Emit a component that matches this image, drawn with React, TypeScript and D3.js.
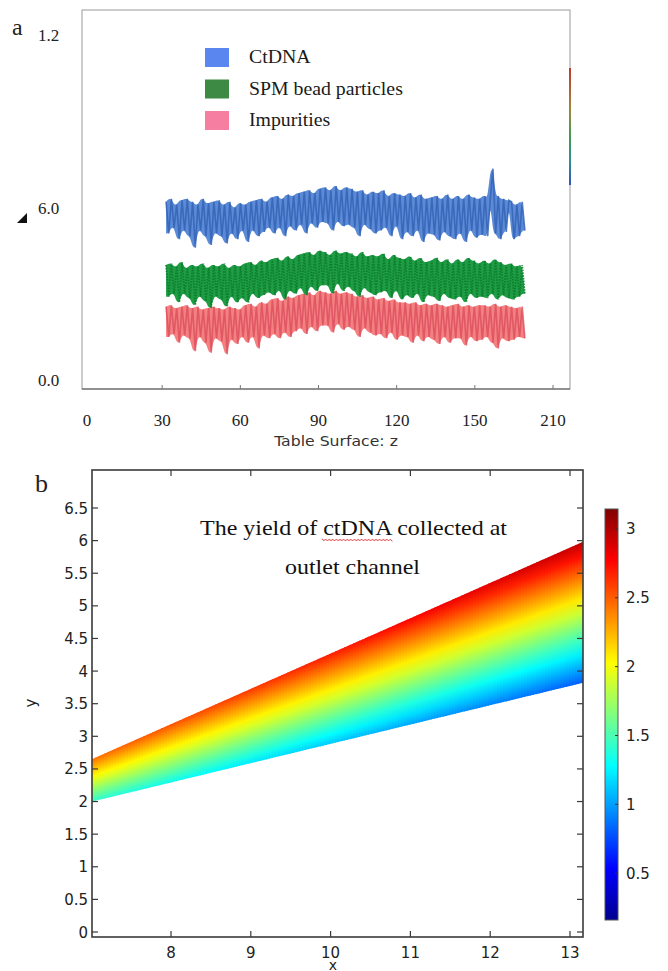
import { useEffect, useRef } from 'react';
import * as d3 from 'd3';

const W = 668;
const H = 971;
const SERIF = "'Liberation Serif', 'Times New Roman', serif";
const SANS = "'DejaVu Sans', sans-serif";

// ---- panel a: noisy signals ----
const A_X_TICKS = [0, 30, 60, 90, 120, 150, 180];
const A_X_TICK_LABELS = ['0', '30', '60', '90', '120', '150', '210'];
const A_Y_TICKS = [0, 6, 12];
const A_Y_TICK_LABELS = ['0.0', '6.0', '1.2'];

const SERIES_X_START = 31.5;
const SERIES_X_STEP = 1.02;

const CTDNA = [
  6.2, 5.1, 6.3, 5.3, 6.1, 4.9, 6.25, 5.2, 6.3, 5.0,
  6.2, 4.6, 6.1, 5.2, 6.3, 5.0, 6.15, 4.7, 6.2, 5.1,
  6.25, 5.0, 6.1, 4.75, 6.2, 5.1, 6.0, 4.9, 6.15, 5.2,
  6.1, 4.8, 6.2, 5.2, 6.25, 5.0, 6.3, 5.15, 6.2, 5.3,
  6.35, 5.1, 6.4, 5.3, 6.3, 5.0, 6.45, 5.35, 6.4, 5.2,
  6.5, 5.4, 6.55, 5.1, 6.6, 5.45, 6.5, 5.3, 6.65, 5.5,
  6.7, 5.45, 6.6, 5.2, 6.75, 5.5, 6.6, 5.35, 6.7, 5.4,
  6.65, 5.3, 6.55, 5.0, 6.6, 5.4, 6.45, 5.25, 6.55, 5.1,
  6.5, 5.2, 6.6, 5.3, 6.4, 5.0, 6.5, 5.35, 6.45, 4.9,
  6.4, 5.15, 6.5, 5.0, 6.35, 5.2, 6.45, 4.8, 6.3, 5.1,
  6.35, 5.05, 6.4, 4.85, 6.3, 5.15, 6.45, 5.0, 6.3, 4.9,
  6.4, 5.1, 6.3, 4.8, 6.45, 5.2, 6.35, 4.95, 6.3, 5.05,
  6.4, 5.0, 6.3, 7.35, 5.1, 6.4, 4.9, 6.3, 5.15, 6.25,
  6.2, 4.9, 6.1, 5.0, 6.2, 5.2,
];

const SPM = [
  4.0, 2.9, 4.05, 3.0, 3.95, 2.7, 4.1, 3.0, 3.9, 2.85,
  4.0, 2.6, 3.95, 2.9, 4.05, 2.75, 3.9, 2.5, 4.0, 2.9,
  3.95, 2.8, 4.05, 2.55, 3.9, 2.9, 4.0, 2.7, 3.95, 2.85,
  4.05, 2.7, 4.1, 3.0, 4.0, 2.85, 4.15, 2.95, 4.1, 3.05,
  4.2, 2.95, 4.25, 3.1, 4.15, 2.8, 4.3, 3.1, 4.2, 3.0,
  4.35, 3.2, 4.4, 2.95, 4.45, 3.25, 4.35, 3.1, 4.5, 3.3,
  4.45, 3.3, 4.35, 3.0, 4.5, 3.35, 4.4, 3.1, 4.45, 3.25,
  4.4, 3.1, 4.3, 2.9, 4.45, 3.2, 4.3, 3.05, 4.35, 2.95,
  4.3, 3.05, 4.4, 3.1, 4.2, 2.85, 4.35, 3.1, 4.25, 2.8,
  4.2, 2.95, 4.3, 2.85, 4.15, 3.0, 4.25, 2.7, 4.1, 2.95,
  4.15, 2.9, 4.25, 2.75, 4.1, 3.0, 4.2, 2.85, 4.05, 2.8,
  4.2, 2.9, 4.1, 2.7, 4.25, 3.0, 4.15, 2.85, 4.05, 2.9,
  4.15, 2.85, 4.05, 3.0, 4.2, 2.8, 4.1, 2.95, 4.0, 2.85,
  4.05, 2.8, 3.95, 2.9, 4.0, 3.0,
];

const IMPURITIES = [
  2.55, 1.5, 2.6, 1.6, 2.5, 1.3, 2.55, 1.55, 2.6, 1.45,
  2.5, 1.0, 2.55, 1.5, 2.45, 1.3, 2.5, 0.95, 2.55, 1.45,
  2.5, 1.35, 2.45, 0.9, 2.55, 1.4, 2.5, 1.25, 2.45, 1.5,
  2.6, 1.3, 2.65, 1.5, 2.55, 1.1, 2.7, 1.55, 2.65, 1.45,
  2.8, 1.6, 2.85, 1.45, 2.75, 1.65, 2.9, 1.5, 2.85, 1.7,
  2.95, 1.8, 3.0, 1.6, 3.05, 1.85, 2.95, 1.7, 3.1, 1.9,
  3.05, 1.9, 3.0, 1.65, 3.1, 1.95, 3.0, 1.75, 3.05, 1.85,
  3.0, 1.75, 2.9, 1.5, 2.95, 1.8, 2.85, 1.65, 2.9, 1.55,
  2.8, 1.6, 2.85, 1.45, 2.75, 1.65, 2.8, 1.4, 2.7, 1.55,
  2.7, 1.5, 2.65, 1.3, 2.7, 1.55, 2.6, 1.35, 2.65, 1.5,
  2.6, 1.4, 2.65, 1.25, 2.6, 1.5, 2.55, 1.3, 2.6, 1.45,
  2.65, 1.45, 2.55, 1.2, 2.6, 1.5, 2.55, 1.35, 2.6, 1.4,
  2.6, 1.5, 2.55, 1.3, 2.65, 1.1, 2.55, 1.45, 2.6, 1.35,
  2.55, 1.4, 2.5, 1.5, 2.55, 1.45,
];

const LEGEND_LABELS = ['CtDNA', 'SPM bead particles', 'Impurities'];
const LEGEND_COLORS = ['#5a86f0', '#3d8a45', '#f67ea0'];
const FILL_COLORS = ['#5b8bd6', '#1f9d45', '#f58080'];
const EDGE_COLORS = ['#3563b6', '#0c7a2c', '#dc5060'];

// ---- panel b: surface ----
const B_X_TICKS = [8, 9, 10, 11, 12, 13];
const B_Y_TICKS = [0, 0.5, 1, 1.5, 2, 2.5, 3, 3.5, 4, 4.5, 5, 5.5, 6, 6.5];
const CBAR_TICKS = [0.5, 1, 1.5, 2, 2.5, 3];
const CBAR_RANGE = [0.16, 3.145];
const JET_POS = [0, 0.125, 0.375, 0.625, 0.875, 1];
const JET_COLORS = ['#00008f', '#0000ff', '#00ffff', '#ffff00', '#ff0000', '#800000'];

const WEDGE_X = [7.01, 13.16];
const WEDGE_TOP = [2.65, 5.98];
const WEDGE_BOTTOM = [2.0, 3.82];
const WEDGE_TOP_Z = [2.45, 2.95];
const WEDGE_BOTTOM_Z = [1.42, 0.8];

export default function App() {
  const ref = useRef<SVGSVGElement>(null);

  useEffect(() => {
    if (!ref.current) return;
    const svg = d3.select(ref.current);
    svg.selectAll('*').remove();
    const defs = svg.append('defs');

    svg.append('rect').attr('width', W).attr('height', H).attr('fill', '#fff');

    // ===== panel a =====
    const aLeft = 82, aRight = 570, aTop = 10, aBottom = 389;
    const xa = d3.scaleLinear().domain([0, 180]).range([84, 553]);
    const ya = d3.scaleLinear().domain([0, 12]).range([380, 35]);

    const ga = svg.append('g');
    ga.append('rect')
      .attr('x', aLeft).attr('y', aTop)
      .attr('width', aRight - aLeft).attr('height', aBottom - aTop)
      .attr('fill', 'none').attr('stroke', '#9a9a9a').attr('stroke-width', 1);
    ga.append('line')
      .attr('x1', aLeft).attr('x2', aRight).attr('y1', aBottom).attr('y2', aBottom)
      .attr('stroke', '#555').attr('stroke-width', 1.2);

    // leftover colour strip on the right edge
    const edgeGrad = defs.append('linearGradient').attr('id', 'edgeGrad')
      .attr('x1', 0).attr('x2', 0).attr('y1', 0).attr('y2', 1);
    [['0', '#c0392b'], ['0.35', '#a0893a'], ['0.6', '#3f9a55'], ['0.8', '#2f8f95'], ['1', '#2f55c0']]
      .forEach(([o, c]) => edgeGrad.append('stop').attr('offset', o).attr('stop-color', c));
    ga.append('rect').attr('x', aRight - 1).attr('y', 68).attr('width', 2).attr('height', 117)
      .attr('fill', 'url(#edgeGrad)');

    // bottom ticks
    ga.selectAll('.xt').data(A_X_TICKS.slice(1)).enter().append('line')
      .attr('x1', d => xa(d)).attr('x2', d => xa(d))
      .attr('y1', aBottom).attr('y2', aBottom - 4)
      .attr('stroke', '#777').attr('stroke-width', 1);
    ga.selectAll('.xl').data(A_X_TICKS).enter().append('text')
      .attr('x', d => xa(d) + (d === 0 ? 3 : 0)).attr('y', 426)
      .attr('text-anchor', 'middle')
      .attr('font-family', SERIF).attr('font-size', 17).attr('fill', '#222')
      .text((d, i) => A_X_TICK_LABELS[i]);
    ga.selectAll('.yl').data(A_Y_TICKS).enter().append('text')
      .attr('x', 38).attr('y', d => ya(d) + 6)
      .attr('font-family', SERIF).attr('font-size', 17).attr('fill', '#222')
      .text((d, i) => A_Y_TICK_LABELS[i]);
    ga.append('path').attr('d', 'M27,213 L27,223 L17,223 Z').attr('fill', '#111');
    ga.append('text').attr('x', 12).attr('y', 35)
      .attr('font-family', SERIF).attr('font-size', 24).attr('fill', '#222').text('a');

    const sx = (i: number) => xa(SERIES_X_START + i * SERIES_X_STEP);
    const line = d3.line<number>().x((d, i) => sx(i)).y(d => ya(d));
    const pairMin = (d: number, i: number, arr: number[]) => Math.min(d, arr[Math.min(i + 1, arr.length - 1)]);
    const pairMax = (d: number, i: number, arr: number[]) => Math.max(d, arr[Math.min(i + 1, arr.length - 1)]);
    const band = d3.area<number>()
      .curve(d3.curveBasis)
      .x((d, i) => sx(i))
      .y0((d, i, arr) => ya(pairMin(d, i, arr as number[])))
      .y1((d, i, arr) => ya(pairMax(d, i, arr as number[])));

    const series = [
      { data: CTDNA, k: 0, dash: null },
      { data: IMPURITIES, k: 2, dash: null },
      { data: SPM, k: 1, dash: '1.6,1.2' },
    ];
    series.forEach(s => {
      ga.append('path').attr('d', band(s.data)).attr('fill', FILL_COLORS[s.k]);
      const p = ga.append('path').attr('d', line(s.data))
        .attr('fill', 'none').attr('stroke', EDGE_COLORS[s.k])
        .attr('stroke-width', 1.6).attr('stroke-opacity', 0.85);
      if (s.dash) p.attr('stroke-dasharray', s.dash).attr('stroke-width', 1.8);
    });

    // legend
    LEGEND_LABELS.forEach((lab, i) => {
      const yTop = 48 + i * 31.5;
      ga.append('rect').attr('x', 205).attr('y', yTop).attr('width', 24).attr('height', 19)
        .attr('fill', LEGEND_COLORS[i]);
      ga.append('text')
        .attr('transform', `translate(249,${yTop + 15}) scale(1.1,1)`)
        .attr('font-family', SERIF).attr('font-size', 18).attr('fill', '#1a1a1a').text(lab);
    });

    svg.append('text').attr('transform', 'translate(336,446) scale(1.12,1)').attr('text-anchor', 'middle')
      .attr('font-family', SANS).attr('font-size', 14).attr('fill', '#333')
      .text('Table Surface: z');

    // ===== panel b =====
    const bLeft = 92, bRight = 583, bTop = 470, bBottom = 937;
    const xb = d3.scaleLinear().domain([8, 13]).range([171, 570]);
    const yb = d3.scaleLinear().domain([0, 6.5]).range([932, 508]);
    const gb = svg.append('g');

    const jet = d3.scaleLinear<string>()
      .domain(JET_POS.map(p => CBAR_RANGE[0] + p * (CBAR_RANGE[1] - CBAR_RANGE[0])))
      .range(JET_COLORS).clamp(true);

    defs.append('clipPath').attr('id', 'bclip').append('rect')
      .attr('x', bLeft).attr('y', bTop).attr('width', bRight - bLeft).attr('height', bBottom - bTop);

    const topAt = d3.scaleLinear().domain(WEDGE_X).range(WEDGE_TOP);
    const botAt = d3.scaleLinear().domain(WEDGE_X).range(WEDGE_BOTTOM);
    const zTopAt = d3.scaleLinear().domain(WEDGE_X).range(WEDGE_TOP_Z);
    const zBotAt = d3.scaleLinear().domain(WEDGE_X).range(WEDGE_BOTTOM_Z);

    const wedge = gb.append('g').attr('clip-path', 'url(#bclip)');
    const px0 = xb(WEDGE_X[0]);
    const px1 = xb(WEDGE_X[1]);
    const step = 3;
    const tStops = d3.range(0, 1.0001, 0.1);
    let k = 0;
    for (let p = px0; p < px1; p += step) {
      const pa = p, pb = Math.min(p + step + 0.8, px1 + 0.5);
      const xa0 = xb.invert(pa), xa1 = xb.invert(pb), xm = xb.invert(p + step / 2);
      const yT = yb(topAt(xm)), yB = yb(botAt(xm));
      const id = `wg${k++}`;
      const g = defs.append('linearGradient').attr('id', id)
        .attr('gradientUnits', 'userSpaceOnUse')
        .attr('x1', 0).attr('x2', 0).attr('y1', yT).attr('y2', yB);
      const zt = zTopAt(xm), zbv = zBotAt(xm);
      tStops.forEach(t => g.append('stop').attr('offset', t)
        .attr('stop-color', jet(zt + (zbv - zt) * t)));
      wedge.append('path')
        .attr('d', `M${pa},${yb(topAt(xa0))}L${pb},${yb(topAt(xa1))}L${pb},${yb(botAt(xa1))}L${pa},${yb(botAt(xa0))}Z`)
        .attr('fill', `url(#${id})`);
    }

    // frame + ticks
    gb.append('rect').attr('x', bLeft).attr('y', bTop)
      .attr('width', bRight - bLeft).attr('height', bBottom - bTop)
      .attr('fill', 'none').attr('stroke', '#3a3a3a').attr('stroke-width', 1.6);
    const tk = 6;
    B_X_TICKS.forEach(v => {
      gb.append('line').attr('x1', xb(v)).attr('x2', xb(v)).attr('y1', bBottom).attr('y2', bBottom - tk)
        .attr('stroke', '#3a3a3a').attr('stroke-width', 1.2);
      gb.append('line').attr('x1', xb(v)).attr('x2', xb(v)).attr('y1', bTop).attr('y2', bTop + tk)
        .attr('stroke', '#3a3a3a').attr('stroke-width', 1.2);
    });
    B_Y_TICKS.forEach(v => {
      gb.append('line').attr('x1', bLeft).attr('x2', bLeft + tk).attr('y1', yb(v)).attr('y2', yb(v))
        .attr('stroke', '#3a3a3a').attr('stroke-width', 1.2);
      gb.append('line').attr('x1', bRight).attr('x2', bRight - tk).attr('y1', yb(v)).attr('y2', yb(v))
        .attr('stroke', '#3a3a3a').attr('stroke-width', 1.2);
    });
    gb.selectAll('.bxl').data(B_X_TICKS).enter().append('text')
      .attr('x', d => xb(d)).attr('y', 958).attr('text-anchor', 'middle')
      .attr('font-family', SANS).attr('font-size', 15).attr('fill', '#222')
      .text(d => String(d));
    gb.selectAll('.byl').data(B_Y_TICKS).enter().append('text')
      .attr('x', 88).attr('y', d => yb(d) + 5.5).attr('text-anchor', 'end')
      .attr('font-family', SANS).attr('font-size', 15).attr('fill', '#222')
      .text(d => String(d));
    gb.append('text').attr('x', 333).attr('y', 970).attr('text-anchor', 'middle')
      .attr('font-family', SANS).attr('font-size', 14).attr('fill', '#222').text('x');
    gb.append('text').attr('transform', 'translate(36,703) rotate(-90)').attr('text-anchor', 'middle')
      .attr('font-family', SANS).attr('font-size', 15).attr('fill', '#222').text('y');
    gb.append('text').attr('x', 35).attr('y', 492)
      .attr('font-family', SERIF).attr('font-size', 26).attr('fill', '#222').text('b');

    // annotation
    const ann = gb.append('text').attr('font-family', SERIF).attr('font-size', 21).attr('fill', '#111');
    ann.append('tspan').attr('x', 200).attr('y', 535)
      .attr('textLength', 307).attr('lengthAdjust', 'spacingAndGlyphs')
      .text('The yield of ctDNA collected at');
    ann.append('tspan').attr('x', 285).attr('y', 574)
      .attr('textLength', 135).attr('lengthAdjust', 'spacingAndGlyphs')
      .text('outlet channel');
    const wave: [number, number][] = d3.range(322, 394, 1.8).map((x, i) => [x, 540 + (i % 2 ? 1.4 : -1.4)]);
    gb.append('path').attr('d', d3.line().curve(d3.curveBasis)(wave))
      .attr('fill', 'none').attr('stroke', '#e03030').attr('stroke-width', 1);

    // colorbar
    const cbX = 605, cbW = 13;
    const yc = d3.scaleLinear().domain(CBAR_RANGE).range([920, 509]);
    const cg = defs.append('linearGradient').attr('id', 'cbar')
      .attr('x1', 0).attr('x2', 0).attr('y1', 1).attr('y2', 0);
    JET_POS.forEach((p, i) => cg.append('stop').attr('offset', p).attr('stop-color', JET_COLORS[i]));
    gb.append('rect').attr('x', cbX).attr('y', yc(CBAR_RANGE[1])).attr('width', cbW)
      .attr('height', yc(CBAR_RANGE[0]) - yc(CBAR_RANGE[1]))
      .attr('fill', 'url(#cbar)').attr('stroke', '#555').attr('stroke-width', 1);
    CBAR_TICKS.forEach(v => {
      gb.append('line').attr('x1', cbX + cbW - 3).attr('x2', cbX + cbW).attr('y1', yc(v)).attr('y2', yc(v))
        .attr('stroke', '#333').attr('stroke-width', 1);
      gb.append('text').attr('x', 626).attr('y', yc(v) + 5.5)
        .attr('font-family', SANS).attr('font-size', 15).attr('fill', '#222').text(String(v));
    });
  }, []);

  return (
    <svg
      ref={ref}
      width={W}
      height={H}
      style={{ position: 'absolute', left: 0, top: 0, display: 'block' }}
    />
  );
}
